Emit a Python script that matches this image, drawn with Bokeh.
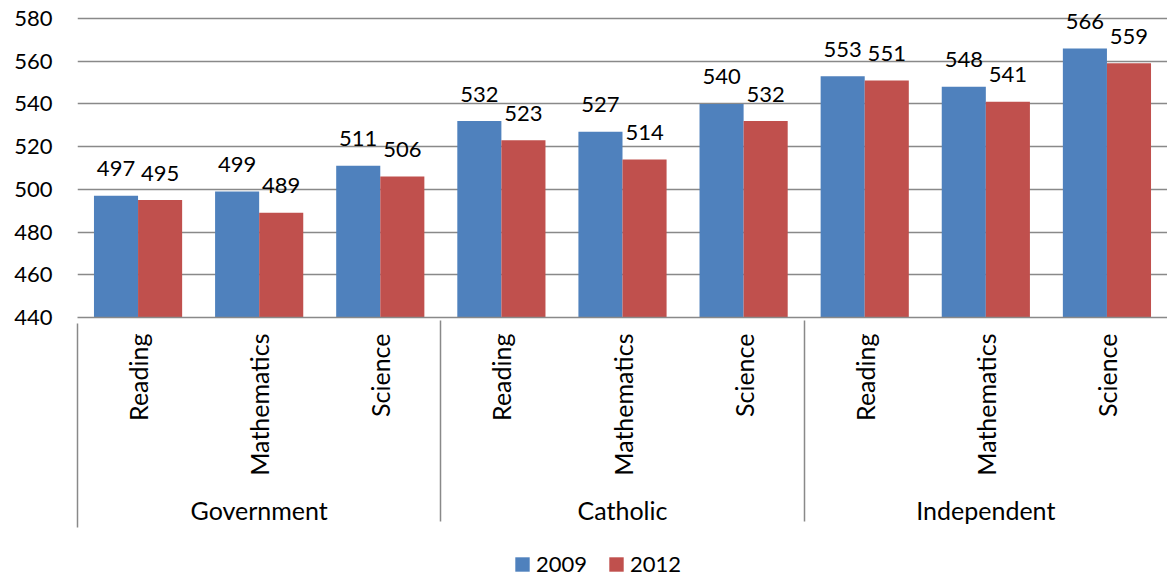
import math
from bokeh.plotting import figure
from bokeh.layouts import column
from bokeh.models import (FactorRange, ColumnDataSource, Legend, LegendItem,
                          Range1d, FixedTicker, LinearAxis)
from bokeh.transform import dodge
from bokeh.core.properties import value
from bokeh.embed import file_html
from bokeh.resources import INLINE

sectors = ["Government", "Catholic", "Independent"]
subjects = ["Reading", "Mathematics", "Science"]
years = ["2009", "2012"]
scores_2009 = [497, 499, 511, 532, 527, 540, 553, 548, 566]
scores_2012 = [495, 489, 506, 523, 514, 532, 551, 541, 559]
y_ticks = [440, 460, 480, 500, 520, 540, 560, 580]

FONT = "Lato"
BLUE = "#4F81BD"
RED = "#C0504D"
GRAY = "#898989"
NUM_SIZE = "22px"
CAT_SIZE = "25px"
W = 1167

factors = [(s, sub) for s in sectors for sub in subjects]
src = ColumnDataSource(dict(
    x=factors,
    y09=scores_2009,
    y12=scores_2012,
    l09=[str(v) for v in scores_2009],
    l12=[str(v) for v in scores_2012],
))

x_range = FactorRange(*factors, range_padding=0, factor_padding=0,
                      group_padding=0, subgroup_padding=0)
# a little headroom above 580 so the tallest bar's label is not clipped
p = figure(width=W, height=530, x_range=x_range,
           y_range=Range1d(y_ticks[0], y_ticks[-1] + 3.75),
           output_backend="svg", toolbar_location=None,
           min_border_left=77, min_border_top=10, min_border_right=0,
           min_border_bottom=213, outline_line_color=None)

off = 0.182
bw = 0.364
r09 = p.vbar(x=dodge("x", -off, range=p.x_range), top="y09", bottom=y_ticks[0],
             width=bw, source=src, fill_color=BLUE, line_color=None)
r12 = p.vbar(x=dodge("x", off, range=p.x_range), top="y12", bottom=y_ticks[0],
             width=bw, source=src, fill_color=RED, line_color=None)

for xo, col, ycol in [(-off, "l09", "y09"), (off, "l12", "y12")]:
    p.text(x=dodge("x", xo, range=p.x_range), y=ycol, text=col, source=src,
           text_align="center", text_baseline="alphabetic", y_offset=-27,
           text_font=value(FONT), text_font_size=NUM_SIZE, text_color="black")

# y axis
ya = p.yaxis[0]
ya.ticker = FixedTicker(ticks=y_ticks)
ya.axis_line_color = None
ya.major_tick_line_color = None
ya.minor_tick_line_color = None
ya.major_tick_out = 0
ya.major_tick_in = 0
ya.major_label_standoff = 25
ya.major_label_text_font = FONT
ya.major_label_text_font_size = NUM_SIZE
ya.major_label_text_color = "black"

p.ygrid.ticker = FixedTicker(ticks=y_ticks)
p.ygrid.grid_line_color = GRAY
p.ygrid.grid_line_width = 1.5
p.xgrid.grid_line_color = None

# x axis
xa = p.xaxis[0]
xa.axis_line_color = GRAY
xa.axis_line_width = 1.5
xa.major_tick_line_color = None
xa.major_tick_out = 0
xa.major_tick_in = 0
xa.minor_tick_line_color = None
xa.major_label_orientation = math.pi / 2
xa.major_label_standoff = 16
xa.major_label_text_font = FONT
xa.major_label_text_font_size = CAT_SIZE
xa.major_label_text_color = "black"
xa.group_text_font = FONT
xa.group_text_font_size = CAT_SIZE
xa.group_text_color = "black"
xa.group_text_font_style = "normal"
xa.separator_line_color = GRAY
xa.separator_line_width = 1.5

# outer edge line of the category axis (left side)
edge_axis = LinearAxis(ticker=FixedTicker(ticks=[0.001]),
                       axis_line_color=None, major_tick_line_color=GRAY,
                       major_tick_line_width=1.5, major_tick_in=204,
                       major_tick_out=0, minor_tick_line_color=None,
                       major_label_text_font_size="0px",
                       major_label_standoff=0)
p.add_layout(edge_axis, "below")

# legend strip below the chart (swatches use zero-height proxy bars)
lg = figure(width=W, height=48, x_range=Range1d(0, 1), y_range=Range1d(0, 1),
            output_backend="svg", toolbar_location=None,
            min_border_left=0, min_border_right=0, min_border_top=0,
            min_border_bottom=0, outline_line_color=None)
lg.axis.visible = False
lg.grid.visible = False
d09 = lg.vbar(x=[0.5], top=[0.0], bottom=[0.0], width=0.01,
              fill_color=BLUE, line_color=None)
d12 = lg.vbar(x=[0.5], top=[0.0], bottom=[0.0], width=0.01,
              fill_color=RED, line_color=None)
legend = Legend(items=[LegendItem(label=years[0], renderers=[d09]),
                       LegendItem(label=years[1], renderers=[d12])],
                orientation="horizontal", location=(436, 1),
                border_line_color=None, background_fill_color=None,
                label_text_font=FONT, label_text_font_size=NUM_SIZE,
                label_text_color="black",
                glyph_width=18, glyph_height=18, spacing=20,
                label_standoff=5, margin=0, padding=0)
lg.add_layout(legend, "center")

layout = column(p, lg, spacing=0)
open("out.html", "w").write(file_html(layout, INLINE))
